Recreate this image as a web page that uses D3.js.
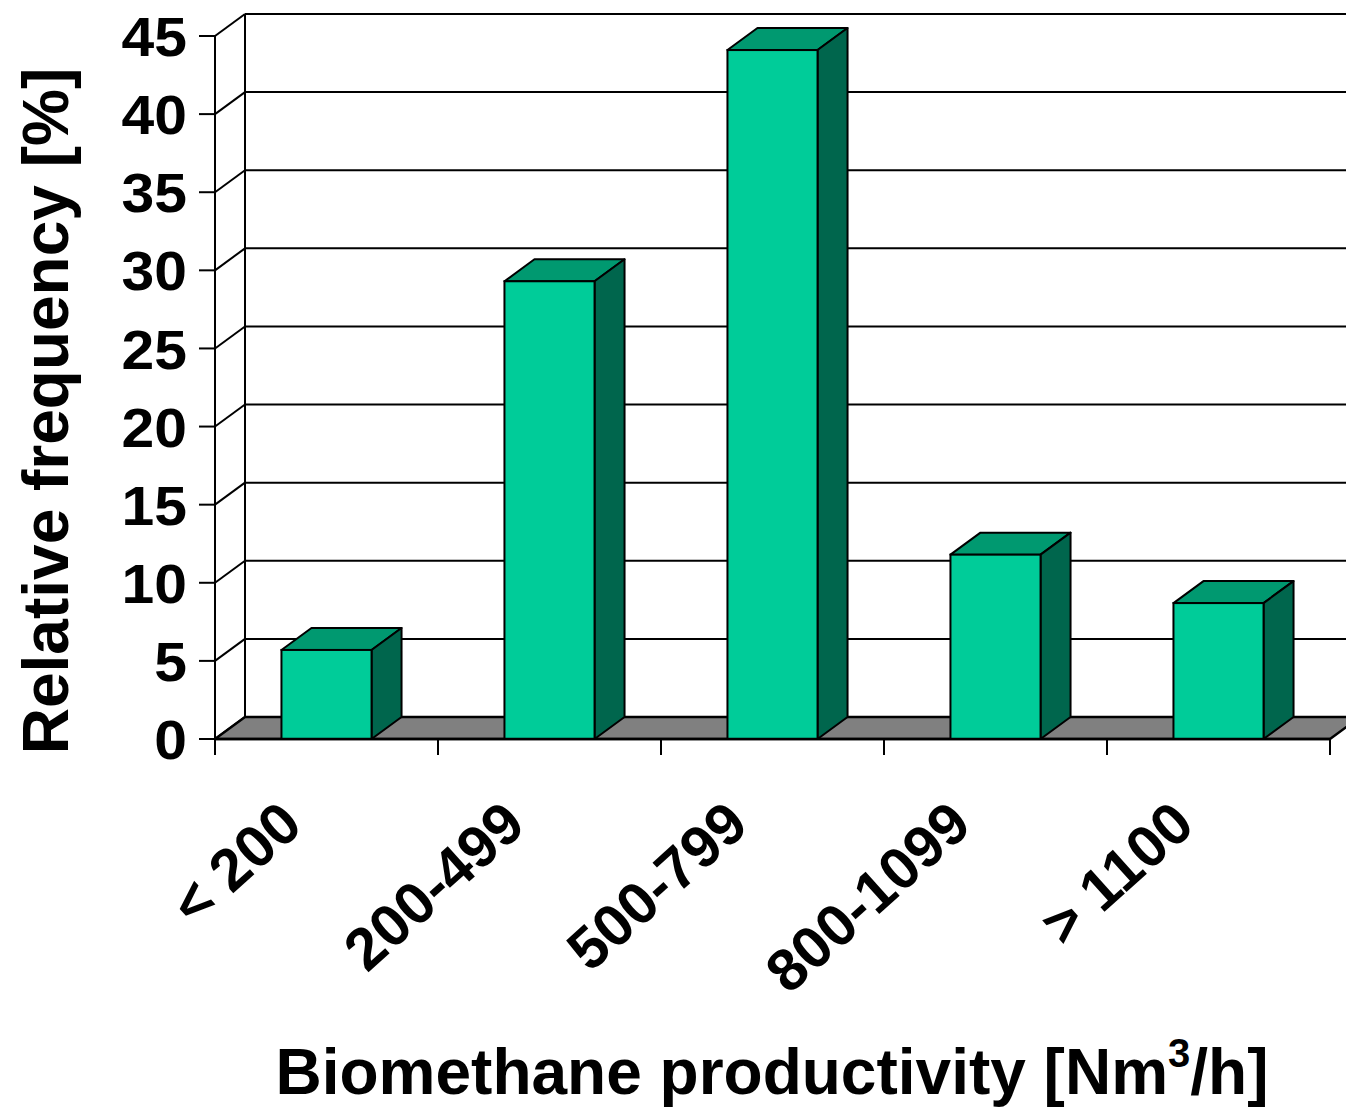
<!DOCTYPE html>
<html>
<head>
<meta charset="utf-8">
<script src="https://cdn.jsdelivr.net/npm/d3@7"></script>
<style>
  body { margin: 0; background: #fff; }
  text { font-family: "Liberation Sans", Arial, sans-serif; font-weight: bold; fill: #000; }
</style>
</head>
<body>
<svg id="chart" width="1346" height="1109"></svg>
<script>
// Chart data.
var categories = ["< 200", "200-499", "500-799", "800-1099", "> 1100"];
var frequency = [5.7, 29.3, 44.1, 11.8, 8.7];
var yTicks = [0, 5, 10, 15, 20, 25, 30, 35, 40, 45];

var svg = d3.select("#chart");

// Front plane and depth offset of the 3D box.
var x0 = 215, x1 = 1330;
var depthX = 30, depthY = -22;

var x = d3.scaleBand()
    .domain(categories)
    .range([x0, x1])
    .paddingInner(0.596)
    .paddingOuter(0.298);

var y = d3.scaleLinear()
    .domain([0, 45])
    .range([739, 36]);

// Back wall gridlines.
svg.append("g").selectAll("line")
    .data(yTicks.filter(function(t) { return t > 0; }))
    .enter().append("line")
    .attr("x1", x0 + depthX)
    .attr("x2", x1 + depthX)
    .attr("y1", function(t) { return y(t) + depthY; })
    .attr("y2", function(t) { return y(t) + depthY; })
    .attr("stroke", "#000")
    .attr("stroke-width", 2);

// Side wall diagonals.
svg.append("g").selectAll("line")
    .data(yTicks)
    .enter().append("line")
    .attr("x1", x0)
    .attr("x2", x0 + depthX)
    .attr("y1", function(t) { return y(t); })
    .attr("y2", function(t) { return y(t) + depthY; })
    .attr("stroke", "#000")
    .attr("stroke-width", 2);

// Back wall left edge.
svg.append("line")
    .attr("x1", x0 + depthX).attr("x2", x0 + depthX)
    .attr("y1", y(45) + depthY).attr("y2", y(0) + depthY)
    .attr("stroke", "#000").attr("stroke-width", 2);

// Floor.
svg.append("path")
    .attr("d", "M" + x0 + "," + y(0) +
        "L" + x1 + "," + y(0) +
        "L" + (x1 + depthX) + "," + (y(0) + depthY) +
        "L" + (x0 + depthX) + "," + (y(0) + depthY) + "Z")
    .attr("fill", "#808080")
    .attr("stroke", "#000")
    .attr("stroke-width", 2.5)
    .attr("stroke-linejoin", "round");

// Bars: front, top and side faces.
var bars = svg.append("g").selectAll("g")
    .data(categories.map(function(c, i) { return { cat: c, val: frequency[i] }; }))
    .enter().append("g");

bars.append("path")  // top
    .attr("d", function(d) {
        var l = x(d.cat), r = l + x.bandwidth(), t = y(d.val);
        return "M" + l + "," + t + "L" + (l + depthX) + "," + (t + depthY) +
            "L" + (r + depthX) + "," + (t + depthY) + "L" + r + "," + t + "Z";
    })
    .attr("fill", "#009970").attr("stroke", "#000").attr("stroke-width", 2)
    .attr("stroke-linejoin", "round");

bars.append("path")  // side
    .attr("d", function(d) {
        var r = x(d.cat) + x.bandwidth(), t = y(d.val), b = y(0);
        return "M" + r + "," + t + "L" + (r + depthX) + "," + (t + depthY) +
            "L" + (r + depthX) + "," + (b + depthY) + "L" + r + "," + b + "Z";
    })
    .attr("fill", "#00664D").attr("stroke", "#000").attr("stroke-width", 2)
    .attr("stroke-linejoin", "round");

bars.append("rect")  // front
    .attr("x", function(d) { return x(d.cat); })
    .attr("y", function(d) { return y(d.val); })
    .attr("width", x.bandwidth())
    .attr("height", function(d) { return y(0) - y(d.val); })
    .attr("fill", "#00CC99").attr("stroke", "#000").attr("stroke-width", 2);

// Y axis (front).
svg.append("line")
    .attr("x1", x0).attr("x2", x0)
    .attr("y1", y(45)).attr("y2", y(0) + 16)
    .attr("stroke", "#000").attr("stroke-width", 2);

svg.append("g").selectAll("line")
    .data(yTicks)
    .enter().append("line")
    .attr("x1", x0 - 16).attr("x2", x0)
    .attr("y1", function(t) { return y(t); })
    .attr("y2", function(t) { return y(t); })
    .attr("stroke", "#000").attr("stroke-width", 2);

svg.append("g").selectAll("text")
    .data(yTicks)
    .enter().append("text")
    .attr("transform", function(t) { return "translate(187," + y(t) + ") scale(1.05,1)"; })
    .attr("dy", "0.36em")
    .attr("text-anchor", "end")
    .style("font-size", "56px")
    .text(function(t) { return t; });

// X axis (front edge of floor) with ticks at category boundaries.
svg.append("line")
    .attr("x1", x0).attr("x2", x1)
    .attr("y1", y(0)).attr("y2", y(0))
    .attr("stroke", "#000").attr("stroke-width", 2.5);

var bounds = categories.map(function(c) { return x(c) - x.step() * x.paddingOuter(); });
bounds.push(x1);
svg.append("g").selectAll("line")
    .data(bounds)
    .enter().append("line")
    .attr("x1", function(b) { return b; })
    .attr("x2", function(b) { return b; })
    .attr("y1", y(0)).attr("y2", y(0) + 16)
    .attr("stroke", "#000").attr("stroke-width", 2);

svg.append("g").selectAll("text")
    .data(categories)
    .enter().append("text")
    .attr("transform", function(c) {
        var cx = x(c) + x.bandwidth() / 2 - 50;
        return "translate(" + cx + ",797) rotate(-42)";
    })
    .attr("dy", "0.72em")
    .attr("text-anchor", "end")
    .style("font-size", "59px")
    .text(function(c) { return c; });

// Axis titles.
svg.append("text")
    .attr("transform", "translate(68,411) rotate(-90)")
    .attr("text-anchor", "middle")
    .style("font-size", "64px")
    .text("Relative frequency [%]");

var xt = svg.append("text")
    .attr("x", 772)
    .attr("y", 1094)
    .attr("text-anchor", "middle")
    .style("font-size", "64px");
xt.append("tspan").text("Biomethane productivity [Nm");
xt.append("tspan").attr("dy", -27).style("font-size", "40px").text("3");
xt.append("tspan").attr("dy", 27).text("/h]");
</script>
</body>
</html>
